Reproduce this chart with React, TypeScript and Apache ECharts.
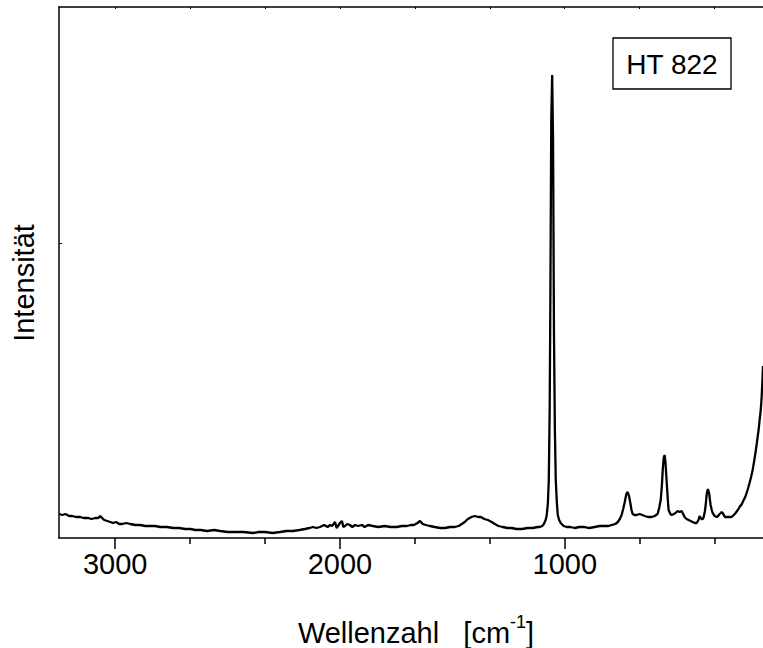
import React, { useEffect, useRef } from "react";
import * as echarts from "echarts";

const wavenumbers = [
  3249, 3235, 3222, 3205, 3191, 3175, 3156, 3140, 3120, 3105, 3089, 3075, 3067, 3058, 3049, 3035, 3022, 3009, 2996, 2982,
  2969, 2950, 2933, 2910, 2889, 2866, 2844, 2822, 2800, 2770, 2742, 2715, 2689, 2665, 2644, 2620, 2591, 2560, 2533, 2500,
  2467, 2430, 2387, 2360, 2333, 2300, 2267, 2238, 2209, 2180, 2156, 2135, 2120, 2105, 2089, 2070, 2055, 2044, 2035, 2022,
  2015, 2009, 2000, 1991, 1985, 1978, 1968, 1956, 1945, 1933, 1920, 1902, 1890, 1875, 1853, 1830, 1800, 1775, 1747, 1725,
  1702, 1685, 1671, 1655, 1644, 1632, 1618, 1600, 1578, 1555, 1533, 1510, 1489, 1472, 1458, 1445, 1431, 1415, 1400, 1385,
  1373, 1358, 1342, 1325, 1311, 1295, 1276, 1255, 1236, 1215, 1191, 1165, 1142, 1120, 1111, 1100, 1093, 1085, 1080, 1075,
  1071, 1067, 1064, 1060, 1056, 1052, 1048, 1044, 1040, 1035, 1031, 1025, 1018, 1005, 991, 975, 956, 935, 911, 890,
  867, 845, 822, 805, 791, 775, 764, 755, 747, 740, 733, 726, 720, 714, 709, 703, 698, 690, 680, 667,
  655, 644, 630, 613, 600, 587, 580, 573, 568, 564, 560, 556, 552, 547, 542, 538, 530, 524, 515, 507,
  498, 489, 480, 473, 467, 458, 449, 440, 431, 422, 413, 405, 400, 395, 391, 386, 382, 377, 373, 370,
  367, 363, 360, 357, 354, 351, 346, 342, 333, 324, 318, 311, 306, 302, 297, 293, 287, 280, 270, 258,
  248, 240, 230, 222, 212, 204, 197, 191, 184, 178, 171, 164, 158, 151, 146, 142, 137, 133, 128, 124,
  121, 118,
];

const intensities = [
  24, 23, 24, 22, 22, 21, 21, 20, 20, 19, 20, 20, 22, 20, 18, 17, 16, 15, 16, 14,
  14, 15, 14, 13, 13, 12, 12, 12, 11, 11, 10, 10, 9, 9, 8, 8, 7, 8, 7, 6,
  6, 6, 5, 6, 6, 5, 6, 7, 7, 8, 9, 10, 11, 10, 11, 13, 11, 13, 12, 16,
  10, 12, 15, 17, 11, 12, 14, 13, 11, 13, 12, 13, 11, 13, 12, 11, 12, 11, 11, 12,
  12, 13, 13, 15, 17, 14, 13, 12, 11, 10, 10, 11, 11, 12, 14, 16, 19, 21, 22, 21,
  21, 19, 18, 16, 14, 12, 11, 10, 10, 9, 9, 10, 10, 11, 11, 12, 14, 18, 23, 35,
  58, 130, 238, 418, 463, 398, 208, 110, 58, 35, 23, 18, 15, 12, 11, 11, 10, 11, 11, 10,
  11, 12, 12, 12, 13, 14, 16, 19, 23, 29, 36, 44, 46, 42, 36, 28, 24, 23, 23, 24,
  23, 22, 21, 21, 22, 24, 30, 38, 52, 68, 80, 83, 76, 58, 40, 28, 24, 23, 24, 25,
  27, 26, 27, 24, 21, 19, 18, 17, 16, 15, 15, 18, 22, 20, 19, 19, 21, 26, 33, 40,
  46, 49, 49, 44, 38, 33, 28, 25, 22, 21, 22, 24, 25, 26, 25, 23, 21, 21, 21, 21,
  23, 25, 28, 31, 34, 38, 41, 45, 50, 55, 61, 68, 76, 86, 94, 101, 109, 118, 128, 141,
  155, 172,
];

const majorTicks = [3000, 2000, 1000];
const minorTicks = [2666.67, 2333.33, 1666.67, 1333.33, 666.67, 333.33];
const yTicks = [295];

const FONT = '"Liberation Sans", Arial, Helvetica, sans-serif';

export default function App() {
  const ref = useRef<HTMLDivElement>(null);

  useEffect(() => {
    if (!ref.current) return;
    const chart = echarts.init(ref.current, undefined, { renderer: "svg" });
    const data = wavenumbers.map((w, i) => [w, intensities[i]]);
    const xCommon = {
      type: "value",
      inverse: true,
      min: 118,
      max: 3250,
      splitLine: { show: false },
    };
    chart.setOption({
      animation: false,
      backgroundColor: "#ffffff",
      grid: { left: 59, right: 0, top: 7, bottom: 110, containLabel: false, outerBoundsMode: "none" },
      xAxis: [
        {
          ...xCommon,
          position: "bottom",
          axisLine: { show: true, lineStyle: { color: "#000", width: 1.5 } },
          axisTick: { show: true, inside: false, length: 11, customValues: majorTicks, lineStyle: { color: "#000", width: 1.5 } },
          axisLabel: {
            show: true,
            customValues: majorTicks,
            fontSize: 29,
            color: "#000",
            fontFamily: FONT,
            margin: 11,
            formatter: (v: number) => String(Math.round(v)),
          },
        },
        {
          ...xCommon,
          position: "bottom",
          axisLine: { show: false },
          axisTick: { show: true, inside: false, length: 6, customValues: minorTicks, lineStyle: { color: "#000", width: 1.5 } },
          axisLabel: { show: false },
        },
        {
          ...xCommon,
          position: "top",
          axisLine: { show: true, lineStyle: { color: "#000", width: 1.5 } },
          axisTick: { show: true, inside: true, length: 2, customValues: majorTicks.concat(minorTicks), lineStyle: { color: "#000", width: 1 } },
          axisLabel: { show: false },
        },
      ],
      yAxis: {
        type: "value",
        min: 0,
        max: 531,
        axisLine: { show: true, lineStyle: { color: "#000", width: 1.5 } },
        axisTick: { show: true, inside: true, length: 3, customValues: yTicks, lineStyle: { color: "#000", width: 1 } },
        axisLabel: { show: false },
        splitLine: { show: false },
      },
      series: [
        {
          type: "line",
          xAxisIndex: 0,
          data,
          showSymbol: false,
          symbol: "none",
          lineStyle: { color: "#000", width: 2.3 },
        },
      ],
      graphic: [
        {
          type: "text",
          x: 24,
          y: 283,
          rotation: Math.PI / 2,
          style: {
            text: "Intensität",
            font: `29px ${FONT}`,
            fill: "#000",
            align: "center",
            verticalAlign: "middle",
          },
        },
        {
          type: "text",
          x: 416,
          y: 630,
          style: {
            text: "{a|Wellenzahl   [cm}{s|-1}{a|]}",
            fill: "#000",
            align: "center",
            verticalAlign: "middle",
            rich: {
              a: { fontSize: 29, fontFamily: FONT, fill: "#000", verticalAlign: "bottom", lineHeight: 34 },
              s: { fontSize: 18, fontFamily: FONT, fill: "#000", verticalAlign: "top", lineHeight: 34 },
            },
          },
        },
        {
          type: "rect",
          shape: { x: 613, y: 38, width: 118, height: 51 },
          style: { fill: "#fff", stroke: "#000", lineWidth: 1.3 },
        },
        {
          type: "text",
          x: 672,
          y: 64,
          style: {
            text: "HT 822",
            font: `28px ${FONT}`,
            fill: "#000",
            align: "center",
            verticalAlign: "middle",
          },
        },
      ],
    });
    return () => chart.dispose();
  }, []);

  return (
    <div
      ref={ref}
      style={{ position: "fixed", left: 0, top: 0, width: 763, height: 648, background: "#fff" }}
    />
  );
}
